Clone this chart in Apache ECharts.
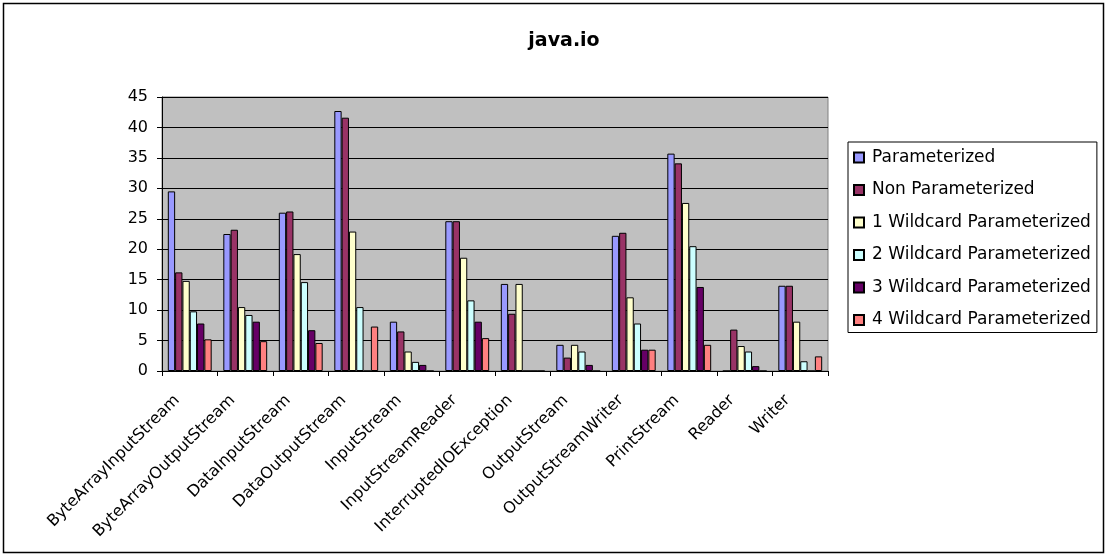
<!DOCTYPE html>
<html>
<head>
<meta charset="utf-8">
<script src="https://cdn.jsdelivr.net/npm/echarts@6/dist/echarts.min.js"></script>
<style>
  html, body { margin: 0; padding: 0; background: #fff; }
  #chart { width: 1107px; height: 556px; }
</style>
</head>
<body>
<div id="chart"></div>
<script>
// categories (x axis)
let categories = ['ByteArrayInputStream', 'ByteArrayOutputStream', 'DataInputStream', 'DataOutputStream',
  'InputStream', 'InputStreamReader', 'InterruptedIOException', 'OutputStream',
  'OutputStreamWriter', 'PrintStream', 'Reader', 'Writer']

// series values
let parameterized = [29.5, 22.5, 26.0, 42.7, 8.1, 24.6, 14.3, 4.3, 22.2, 35.7, 0, 14.0]
let nonParameterized = [16.2, 23.2, 26.2, 41.6, 6.5, 24.6, 9.4, 2.2, 22.7, 34.1, 6.8, 14.0]
let wildcard1 = [14.8, 10.5, 19.2, 22.9, 3.2, 18.6, 14.3, 4.3, 12.1, 27.6, 4.1, 8.1]
let wildcard2 = [9.8, 9.2, 14.6, 10.5, 1.5, 11.6, 0, 3.2, 7.8, 20.5, 3.2, 1.6]
let wildcard3 = [7.8, 8.1, 6.7, 0, 1.0, 8.1, 0, 1.0, 3.5, 13.8, 0.8, 0]
let wildcard4 = [5.2, 4.9, 4.6, 7.3, 0, 5.4, 0, 0, 3.5, 4.3, 0, 2.4]

let seriesNames = ['Parameterized', 'Non Parameterized', '1 Wildcard Parameterized',
  '2 Wildcard Parameterized', '3 Wildcard Parameterized', '4 Wildcard Parameterized']
let seriesValues = [parameterized, nonParameterized, wildcard1, wildcard2, wildcard3, wildcard4]

// y axis ticks
let yMin = 0
let yMax = 45
let yStep = 5

let font = 'DejaVu Sans, sans-serif'

let series = seriesNames.map((name, i) => {
  return {
    name: name,
    type: 'bar',
    barGap: 0,
    barCategoryGap: '21%',
    itemStyle: {
      borderColor: '#000',
      borderWidth: 1
    },
    data: seriesValues[i]
  }
})

let chart = echarts.init(document.getElementById('chart'))
let options = {
  animation: false,
  color: ['#9999FF', '#993366', '#FFFFCC', '#CCFFFF', '#660066', '#FF8080'],
  title: {
    text: 'java.io',
    left: 559,
    textAlign: 'center',
    top: 27,
    textStyle: { fontFamily: font, fontSize: 19, fontWeight: 'bold', color: '#000' }
  },
  graphic: [{
    type: 'rect',
    shape: { x: 3.5, y: 3.5, width: 1100, height: 549 },
    style: { fill: 'none', stroke: '#000', lineWidth: 1.5 },
    silent: true
  }],
  legend: {
    orient: 'vertical',
    left: 848,
    top: 142,
    width: 250,
    padding: [6, 6, 3, 5],
    borderColor: '#000',
    borderWidth: 1,
    icon: 'rect',
    itemWidth: 10,
    itemHeight: 10,
    itemGap: 13.5,
    textStyle: { fontFamily: font, fontSize: 17, color: '#000', lineHeight: 19, padding: [0, 0, 0, 3] },
    data: seriesNames
  },
  grid: {
    left: 162,
    right: 279,
    top: 97,
    bottom: 185,
    show: true,
    backgroundColor: '#C0C0C0',
    borderColor: '#808080',
    borderWidth: 1
  },
  xAxis: {
    type: 'category',
    data: categories,
    axisLine: { lineStyle: { color: '#000' } },
    axisTick: { show: true, length: 5, lineStyle: { color: '#000' } },
    axisLabel: {
      rotate: 45,
      interval: 0,
      margin: 14,
      padding: [0, 18, 0, 0],
      fontFamily: font,
      fontSize: 16,
      color: '#000'
    }
  },
  yAxis: {
    type: 'value',
    min: yMin,
    max: yMax,
    interval: yStep,
    axisLine: { show: true, lineStyle: { color: '#000' } },
    axisTick: { show: true, length: 5, lineStyle: { color: '#000' } },
    axisLabel: { margin: 14, fontFamily: font, fontSize: 16, color: '#000' },
    splitLine: { show: true, lineStyle: { color: '#000', width: 1 } }
  },
  series: series
}
chart.setOption(options)
</script>
</body>
</html>
